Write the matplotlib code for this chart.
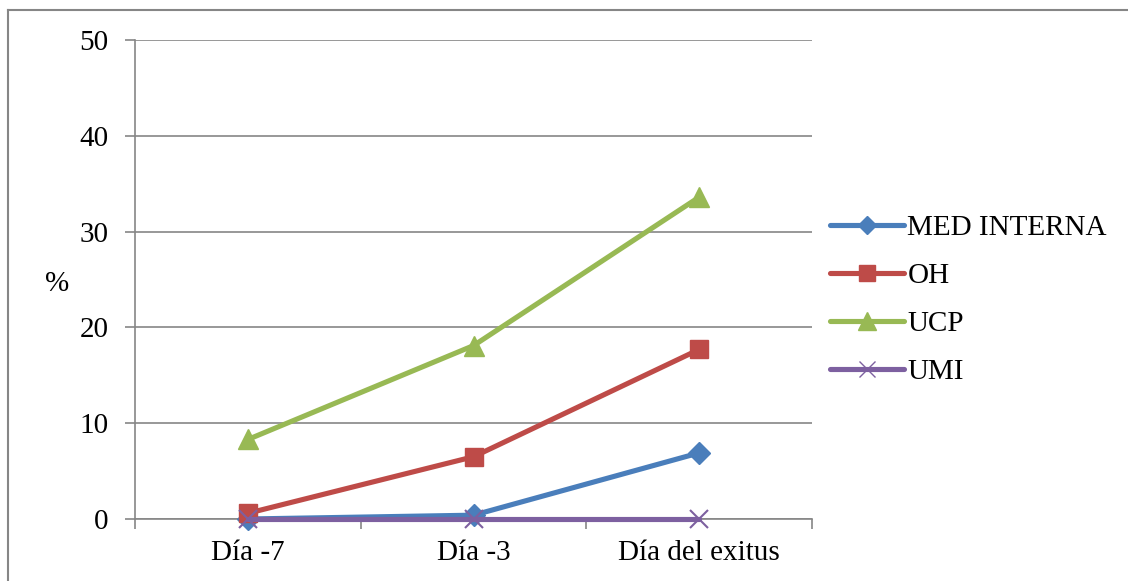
import numpy as np
import matplotlib
matplotlib.use("Agg")
import matplotlib.pyplot as plt
from matplotlib.lines import Line2D

plt.rcParams['font.family'] = ['Liberation Serif', 'DejaVu Serif']

dias = ['Día -7', 'Día -3', 'Día del exitus']
med_interna = [0.0, 0.4, 6.9]
oh = [0.6, 6.5, 17.7]
ucp = [8.3, 18.1, 33.6]
umi = [0.0, 0.0, 0.0]

series = [
    ('MED INTERNA', med_interna, '#4A7EBB', 'D', 11),
    ('OH', oh, '#BE4B48', 's', 13),
    ('UCP', ucp, '#98B954', '^', 15),
    ('UMI', umi, '#7D60A0', 'x', 13),
]

fs = 21

fig = plt.figure(figsize=(11.28, 5.81), dpi=100)
ax = fig.add_axes([0.1197, 0.1067, 0.6002, 0.8245])

x = np.arange(len(dias))
for name, vals, col, mk, ms in series:
    ax.plot(x, vals, color=col, lw=3.7, marker=mk, ms=ms,
            mec=col, mfc=col, mew=1.5 if mk == 'x' else 1, label=name,
            solid_capstyle='round', clip_on=False, zorder=3)

ax.set_xlim(-0.5, 2.5)
ax.set_ylim(0, 50)
ax.set_yticks(range(0, 51, 10))
ax.set_xticks(x)
ax.set_xticklabels(dias)
ax.set_xticks([-0.5, 0.5, 1.5, 2.5], minor=True)
ax.tick_params(axis='x', which='major', length=0, pad=15, labelsize=fs)
ax.tick_params(axis='x', which='minor', length=7, width=1.2, color='#868686')
ax.tick_params(axis='y', length=7, width=1.2, color='#868686', pad=12, labelsize=fs)

ax.grid(axis='y', color='#868686', lw=1.2)
ax.set_axisbelow(True)
for side in ['top', 'right']:
    ax.spines[side].set_visible(False)
for side in ['left', 'bottom']:
    ax.spines[side].set_color('#868686')
    ax.spines[side].set_linewidth(1.2)

fig.text(57 / 1128, 1 - 284 / 581, '%', fontsize=fs, ha='center', va='center')

handles = [Line2D([], [], color=c, lw=3.7, marker=m, ms=s * 0.85, mfc=c, mec=c,
                  solid_capstyle='round') for _, _, c, m, s in series]
fig.legend(handles, [s[0] for s in series], loc='upper left',
           bbox_to_anchor=(830 / 1128, 1 - 215 / 581), frameon=False,
           fontsize=fs, handlelength=2.55, handletextpad=0.1,
           labelspacing=0.74, borderpad=0, borderaxespad=0)

# outer chart frame
fig.add_artist(plt.Line2D([8 / 1128, 8 / 1128], [0, 1 - 10 / 581],
                          color='#868686', lw=1.5))
fig.add_artist(plt.Line2D([8 / 1128, 1], [1 - 10 / 581, 1 - 10 / 581],
                          color='#868686', lw=1.5))

fig.savefig('out.png', dpi=100)
